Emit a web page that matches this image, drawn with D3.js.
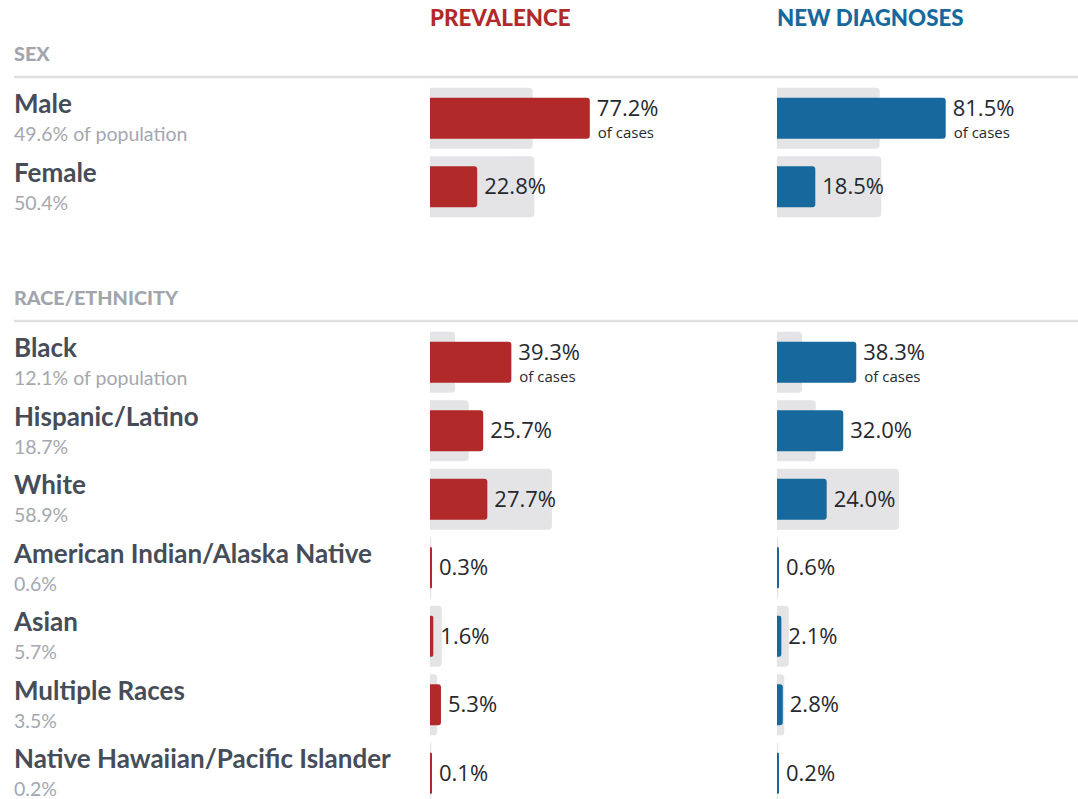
<!DOCTYPE html>
<html>
<head>
<meta charset="utf-8">
<script src="https://cdn.jsdelivr.net/npm/d3@7"></script>
<style>
  body { margin: 0; background: #fff; }
  svg { display: block; }
</style>
</head>
<body>
<script>
// values (percent)
var sections = ["SEX", "RACE/ETHNICITY"];
var categories = ["Male", "Female", "Black", "Hispanic/Latino", "White",
  "American Indian/Alaska Native", "Asian", "Multiple Races", "Native Hawaiian/Pacific Islander"];
var categorySection = ["SEX", "SEX", "RACE/ETHNICITY", "RACE/ETHNICITY", "RACE/ETHNICITY",
  "RACE/ETHNICITY", "RACE/ETHNICITY", "RACE/ETHNICITY", "RACE/ETHNICITY"];
var population = [49.6, 50.4, 12.1, 18.7, 58.9, 0.6, 5.7, 3.5, 0.2];
var prevalence = [77.2, 22.8, 39.3, 25.7, 27.7, 0.3, 1.6, 5.3, 0.1];
var newDiagnoses = [81.5, 18.5, 38.3, 32.0, 24.0, 0.6, 2.1, 2.8, 0.2];
var measures = ["PREVALENCE", "NEW DIAGNOSES"];

var width = 1078;
var height = 799;
var rowH = 68.5;
var sectionTop = [77, 321];   // divider line y for each section
var colX = [430, 777];
var colColor = ["#b12a29", "#16689d"];

var svg = d3.select("body").append("svg")
            .attr("width", width)
            .attr("height", height);

var x = d3.scaleLinear().domain([0, 100]).range([0, 207]);

var rows = categories.map(function(c, i){
  return {name: c, section: categorySection[i], pop: population[i],
          values: [prevalence[i], newDiagnoses[i]]};
});

// one band scale per section
var yScales = sections.map(function(s, k){
  var names = rows.filter(function(r){ return r.section === s; }).map(function(r){ return r.name; });
  return d3.scaleBand().domain(names)
           .range([sectionTop[k] + 7, sectionTop[k] + 7 + names.length * rowH]);
});

function rowCenter(r){
  var k = sections.indexOf(r.section);
  return yScales[k](r.name) + yScales[k].bandwidth() / 2;
}
function isFirst(r){
  var k = sections.indexOf(r.section);
  return yScales[k].domain()[0] === r.name;
}

// bar with rounded right end
function barPath(x0, y0, w, h, r){
  r = Math.min(r, w / 2, h / 2);
  return "M" + x0 + "," + y0 + "h" + (w - r) +
    "a" + r + "," + r + " 0 0 1 " + r + "," + r +
    "v" + (h - 2 * r) +
    "a" + r + "," + r + " 0 0 1 " + (-r) + "," + r +
    "h" + (-(w - r)) + "Z";
}

// column headers
svg.selectAll("text.measure")
   .data(measures)
   .enter().append("text")
   .attr("class", "measure")
   .attr("x", function(d, i){ return colX[i]; })
   .attr("y", 26)
   .attr("fill", function(d, i){ return colColor[i]; })
   .style("font-family", "Lato")
   .style("font-weight", 900)
   .style("font-size", "22.3px")
   .text(function(d){ return d; });

// section headers + dividers
svg.selectAll("text.section")
   .data(sections)
   .enter().append("text")
   .attr("class", "section")
   .attr("x", 14)
   .attr("y", function(d, i){ return sectionTop[i] - 16; })
   .attr("fill", "#a3a5ad")
   .style("font-family", "Lato")
   .style("font-weight", 900)
   .style("font-size", "19.8px")
   .text(function(d){ return d; });

svg.selectAll("line.divider")
   .data(sections)
   .enter().append("line")
   .attr("class", "divider")
   .attr("x1", 14)
   .attr("x2", width)
   .attr("y1", function(d, i){ return sectionTop[i]; })
   .attr("y2", function(d, i){ return sectionTop[i]; })
   .attr("stroke", "#e0e0e3")
   .attr("stroke-width", 2.5);

var row = svg.selectAll("g.row")
             .data(rows)
             .enter().append("g")
             .attr("class", "row")
             .attr("transform", function(d){ return "translate(0," + rowCenter(d) + ")"; });

row.append("text")
   .attr("x", 14)
   .attr("y", -5)
   .attr("fill", "#464c58")
   .style("font-family", "Lato")
   .style("font-weight", 700)
   .style("font-size", "26px")
   .text(function(d){ return d.name; });

row.append("text")
   .attr("x", 14)
   .attr("y", 23)
   .attr("fill", "#a4a7b0")
   .style("font-family", "Lato")
   .style("font-size", "19.5px")
   .text(function(d){ return d.pop.toFixed(1) + "%" + (isFirst(d) ? " of population" : ""); });

measures.forEach(function(m, j){
  // population backdrop
  row.append("path")
     .attr("fill", "#e4e4e7")
     .attr("d", function(d){ return barPath(colX[j], -30.5, Math.max(x(d.pop), 1.2), 61, 4); });

  row.append("path")
     .attr("fill", colColor[j])
     .attr("d", function(d){ return barPath(colX[j], -20.5, Math.max(x(d.values[j]), 2), 41, 3); });

  row.append("text")
     .attr("x", function(d){ return colX[j] + Math.max(x(d.values[j]), 2) + 7; })
     .attr("y", function(d){ return isFirst(d) ? -2 : 7.5; })
     .attr("fill", "#26282e")
     .style("font-family", "Open Sans")
     .style("font-size", "22px")
     .text(function(d){ return d.values[j].toFixed(1) + "%"; });

  row.filter(isFirst).append("text")
     .attr("x", function(d){ return colX[j] + Math.max(x(d.values[j]), 2) + 8; })
     .attr("y", 20)
     .attr("fill", "#26282e")
     .style("font-family", "Open Sans")
     .style("font-size", "15px")
     .text("of cases");
});
</script>
</body>
</html>
